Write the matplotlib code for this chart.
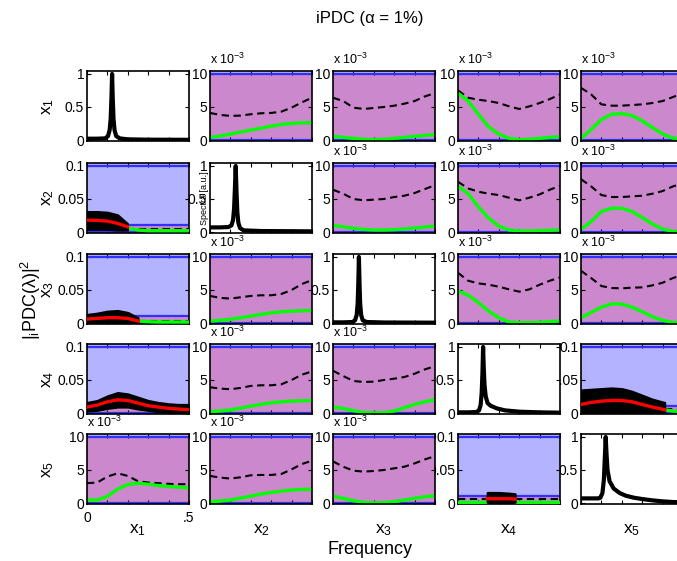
import numpy as np
import matplotlib
matplotlib.use('Agg')
import matplotlib.pyplot as plt

plt.rcParams['font.family'] = ['Liberation Sans', 'DejaVu Sans']
plt.rcParams['mathtext.fontset'] = 'custom'
plt.rcParams['mathtext.rm'] = 'Liberation Sans'
plt.rcParams['mathtext.it'] = 'Liberation Sans:italic'
plt.rcParams['mathtext.default'] = 'regular'

# ---------------- data ----------------
freq = [0.0, 0.05, 0.10, 0.15, 0.20, 0.25, 0.30, 0.35, 0.40, 0.45, 0.50]
var_names = ['x$_1$', 'x$_2$', 'x$_3$', 'x$_4$', 'x$_5$']

# non-significant connections (values in units of 1e-3)
thr_1_2 = [4.1, 3.8, 3.65, 3.7, 3.9, 4.05, 4.1, 4.3, 4.9, 5.7, 6.4]
pdc_1_2 = [0.4, 0.6, 0.9, 1.2, 1.5, 1.8, 2.1, 2.35, 2.5, 2.6, 2.6]
thr_1_3 = [6.4, 5.9, 4.9, 4.7, 4.85, 5.0, 5.2, 5.5, 5.9, 6.6, 7.1]
pdc_1_3 = [0.55, 0.4, 0.25, 0.12, 0.05, 0.1, 0.25, 0.4, 0.55, 0.7, 0.8]
thr_1_4 = [7.5, 6.4, 6.1, 5.9, 5.6, 5.1, 4.7, 5.1, 5.6, 6.2, 6.9]
pdc_1_4 = [7.1, 5.9, 3.9, 2.0, 0.9, 0.25, 0.05, 0.1, 0.25, 0.4, 0.5]
thr_1_5 = [7.9, 6.9, 5.4, 5.2, 5.2, 5.3, 5.4, 5.6, 5.9, 6.5, 7.1]
pdc_1_5 = [0.25, 1.6, 3.1, 3.9, 4.0, 3.7, 2.9, 1.9, 0.9, 0.3, 0.05]

thr_2_3 = [6.4, 5.8, 5.0, 4.8, 4.9, 5.0, 5.3, 5.5, 5.9, 6.5, 7.1]
pdc_2_3 = [1.0, 0.8, 0.55, 0.4, 0.3, 0.3, 0.35, 0.45, 0.6, 0.75, 0.9]
thr_2_4 = [7.6, 6.6, 6.1, 5.8, 5.6, 5.2, 4.8, 5.2, 5.7, 6.4, 7.0]
pdc_2_4 = [6.9, 5.8, 3.8, 2.1, 0.9, 0.3, 0.15, 0.15, 0.2, 0.25, 0.3]
thr_2_5 = [8.0, 6.9, 5.6, 5.3, 5.3, 5.4, 5.5, 5.8, 6.2, 6.9, 7.4]
pdc_2_5 = [0.4, 1.6, 3.1, 3.6, 3.6, 3.1, 2.2, 1.2, 0.45, 0.1, 0.0]

thr_3_2 = [4.1, 3.8, 3.7, 3.9, 4.1, 4.2, 4.2, 4.4, 5.0, 5.9, 6.5]
pdc_3_2 = [0.3, 0.4, 0.55, 0.8, 1.05, 1.3, 1.55, 1.7, 1.8, 1.85, 1.9]
thr_3_4 = [7.6, 6.4, 6.0, 5.8, 5.5, 5.1, 4.75, 5.1, 5.8, 6.4, 6.9]
pdc_3_4 = [4.85, 4.2, 3.1, 1.8, 0.8, 0.15, 0.05, 0.05, 0.1, 0.2, 0.3]
thr_3_5 = [7.9, 6.8, 5.6, 5.3, 5.25, 5.35, 5.4, 5.7, 6.1, 6.8, 7.3]
pdc_3_5 = [0.8, 1.6, 2.4, 2.9, 2.85, 2.4, 1.7, 0.95, 0.4, 0.1, 0.0]

thr_4_2 = [3.9, 3.7, 3.6, 3.8, 4.1, 4.2, 4.2, 4.35, 5.0, 5.8, 6.3]
pdc_4_2 = [0.2, 0.3, 0.45, 0.75, 1.05, 1.3, 1.55, 1.7, 1.8, 1.85, 1.9]
thr_4_3 = [6.4, 5.6, 4.85, 4.7, 4.75, 5.0, 5.2, 5.45, 5.95, 6.6, 7.1]
pdc_4_3 = [0.9, 0.7, 0.35, 0.1, 0.02, 0.05, 0.3, 0.8, 1.3, 1.7, 2.0]

thr_5_1 = [3.0, 3.1, 4.0, 4.5, 4.1, 3.3, 3.1, 3.0, 2.9, 2.85, 2.85]
pdc_5_1 = [0.45, 0.45, 1.0, 2.1, 2.8, 3.0, 2.85, 2.65, 2.5, 2.4, 2.3]
thr_5_2 = [4.1, 3.85, 3.7, 3.9, 4.2, 4.25, 4.25, 4.4, 5.1, 5.9, 6.4]
pdc_5_2 = [0.2, 0.3, 0.45, 0.75, 1.05, 1.35, 1.6, 1.8, 1.95, 2.05, 2.1]
thr_5_3 = [6.3, 5.5, 4.9, 4.75, 4.85, 5.0, 5.25, 5.5, 6.0, 6.6, 7.1]
pdc_5_3 = [1.05, 0.7, 0.35, 0.1, 0.02, 0.05, 0.2, 0.45, 0.7, 0.95, 1.1]

# significant connections (absolute values)
f_sig_2_1 = [0.0, 0.05, 0.10, 0.15, 0.198]
pdc_sig_2_1 = [0.018, 0.0175, 0.0165, 0.013, 0.008]
ci_hi_2_1 = [0.031, 0.031, 0.030, 0.026, 0.013]
ci_lo_2_1 = [0.004, 0.004, 0.004, 0.003, 0.003]
f_ns_2_1 = [0.198, 0.25, 0.30, 0.35, 0.40, 0.45, 0.50]
pdc_ns_2_1 = [0.006, 0.003, 0.002, 0.002, 0.002, 0.002, 0.002]
thr_2_1 = [0.0045, 0.0045, 0.0045, 0.0045, 0.0045, 0.0045, 0.0045]

f_sig_3_1 = [0.0, 0.05, 0.10, 0.15, 0.20, 0.25]
pdc_sig_3_1 = [0.006, 0.007, 0.008, 0.008, 0.007, 0.003]
ci_hi_3_1 = [0.013, 0.015, 0.018, 0.019, 0.016, 0.008]
ci_lo_3_1 = [0.001, 0.001, 0.001, 0.001, 0.001, 0.001]
f_ns_3_1 = [0.25, 0.30, 0.35, 0.40, 0.45, 0.50]
pdc_ns_3_1 = [0.003, 0.002, 0.0015, 0.0015, 0.0015, 0.0015]
thr_3_1 = [0.0035, 0.0035, 0.0035, 0.0035, 0.0035, 0.0035]

f_sig_4_1 = [0.0, 0.05, 0.10, 0.15, 0.20, 0.25, 0.30, 0.35, 0.40, 0.45, 0.50]
pdc_sig_4_1 = [0.009, 0.012, 0.017, 0.020, 0.019, 0.015, 0.011, 0.009, 0.007, 0.006, 0.005]
ci_hi_4_1 = [0.016, 0.019, 0.026, 0.031, 0.029, 0.024, 0.019, 0.016, 0.014, 0.013, 0.013]
ci_lo_4_1 = [0.003, 0.004, 0.007, 0.009, 0.009, 0.006, 0.004, 0.002, 0.001, 0.001, 0.0]

f_sig_4_5 = [0.0, 0.05, 0.10, 0.15, 0.20, 0.25, 0.30, 0.35, 0.41]
pdc_sig_4_5 = [0.013, 0.016, 0.018, 0.019, 0.019, 0.017, 0.013, 0.009, 0.005]
ci_hi_4_5 = [0.035, 0.036, 0.037, 0.038, 0.037, 0.033, 0.027, 0.021, 0.016]
ci_lo_4_5 = [0.001, 0.001, 0.001, 0.001, 0.001, 0.001, 0.001, 0.001, 0.001]
f_ns_4_5 = [0.41, 0.45, 0.50]
pdc_ns_4_5 = [0.005, 0.003, 0.002]
thr_4_5 = [0.006, 0.006, 0.006]

f_sig_5_4 = [0.143, 0.20, 0.25, 0.28]
pdc_sig_5_4 = [0.0065, 0.0065, 0.0065, 0.006]
ci_hi_5_4 = [0.016, 0.016, 0.015, 0.014]
ci_lo_5_4 = [0.001, 0.001, 0.001, 0.001]
f_ns_5_4a = [0.0, 0.05, 0.10, 0.143]
pdc_ns_5_4a = [0.002, 0.002, 0.002, 0.002]
thr_5_4a = [0.006, 0.006, 0.006, 0.006]
f_ns_5_4b = [0.28, 0.35, 0.40, 0.45, 0.50]
pdc_ns_5_4b = [0.002, 0.002, 0.002, 0.002, 0.002]
thr_5_4b = [0.006, 0.006, 0.006, 0.006, 0.006]

# spectra (diagonal)
spec_f_1 = [0, 0.05, 0.09, 0.103, 0.111, 0.116, 0.12, 0.123, 0.126, 0.13, 0.135, 0.143, 0.16, 0.2, 0.3, 0.5]
spec_1 = [0.02, 0.02, 0.025, 0.06, 0.15, 0.32, 0.65, 1.0, 0.65, 0.32, 0.15, 0.06, 0.025, 0.01, 0.005, 0.003]
spec_f_2 = [0, 0.05, 0.09, 0.105, 0.113, 0.118, 0.122, 0.126, 0.13, 0.134, 0.139, 0.147, 0.165, 0.25, 0.5]
spec_2 = [0.07, 0.07, 0.075, 0.1, 0.18, 0.35, 0.65, 1.0, 0.6, 0.3, 0.14, 0.06, 0.025, 0.015, 0.01]
spec_f_3 = [0, 0.05, 0.095, 0.108, 0.116, 0.121, 0.124, 0.127, 0.13, 0.133, 0.138, 0.146, 0.165, 0.25, 0.5]
spec_3 = [0.01, 0.01, 0.015, 0.04, 0.12, 0.3, 0.6, 1.0, 0.6, 0.3, 0.12, 0.04, 0.015, 0.008, 0.005]
spec_f_4 = [0, 0.05, 0.09, 0.103, 0.111, 0.116, 0.12, 0.123, 0.126, 0.13, 0.136, 0.145, 0.16, 0.19, 0.23, 0.3, 0.4, 0.5]
spec_4 = [0.01, 0.01, 0.015, 0.04, 0.12, 0.3, 0.62, 1.0, 0.7, 0.42, 0.25, 0.15, 0.11, 0.07, 0.04, 0.02, 0.01, 0.005]
spec_f_5 = [0, 0.05, 0.085, 0.095, 0.105, 0.112, 0.117, 0.121, 0.125, 0.13, 0.14, 0.16, 0.19, 0.22, 0.26, 0.3, 0.35, 0.4, 0.45, 0.5]
spec_5 = [0.07, 0.07, 0.07, 0.08, 0.15, 0.35, 0.7, 1.0, 0.75, 0.5, 0.33, 0.22, 0.15, 0.11, 0.08, 0.06, 0.04, 0.025, 0.015, 0.01]

# ---------------- assembly ----------------
nonsig = {
    (1, 2): (thr_1_2, pdc_1_2), (1, 3): (thr_1_3, pdc_1_3), (1, 4): (thr_1_4, pdc_1_4), (1, 5): (thr_1_5, pdc_1_5),
    (2, 3): (thr_2_3, pdc_2_3), (2, 4): (thr_2_4, pdc_2_4), (2, 5): (thr_2_5, pdc_2_5),
    (3, 2): (thr_3_2, pdc_3_2), (3, 4): (thr_3_4, pdc_3_4), (3, 5): (thr_3_5, pdc_3_5),
    (4, 2): (thr_4_2, pdc_4_2), (4, 3): (thr_4_3, pdc_4_3),
    (5, 1): (thr_5_1, pdc_5_1), (5, 2): (thr_5_2, pdc_5_2), (5, 3): (thr_5_3, pdc_5_3),
}
sig = {
    (2, 1): ([(f_sig_2_1, pdc_sig_2_1, ci_lo_2_1, ci_hi_2_1)], [(f_ns_2_1, pdc_ns_2_1, thr_2_1)]),
    (3, 1): ([(f_sig_3_1, pdc_sig_3_1, ci_lo_3_1, ci_hi_3_1)], [(f_ns_3_1, pdc_ns_3_1, thr_3_1)]),
    (4, 1): ([(f_sig_4_1, pdc_sig_4_1, ci_lo_4_1, ci_hi_4_1)], []),
    (4, 5): ([(f_sig_4_5, pdc_sig_4_5, ci_lo_4_5, ci_hi_4_5)], [(f_ns_4_5, pdc_ns_4_5, thr_4_5)]),
    (5, 4): ([(f_sig_5_4, pdc_sig_5_4, ci_lo_5_4, ci_hi_5_4)],
             [(f_ns_5_4a, pdc_ns_5_4a, thr_5_4a), (f_ns_5_4b, pdc_ns_5_4b, thr_5_4b)]),
}
spectra = {1: (spec_f_1, spec_1), 2: (spec_f_2, spec_2), 3: (spec_f_3, spec_3),
           4: (spec_f_4, spec_4), 5: (spec_f_5, spec_5)}

LIGHTBLUE = '#b3b3ff'
PURPLE = '#cc88cc'
BLUE = '#3030ff'
GREEN = '#00ff00'
RED = '#ff0000'

W, H = 677, 561
fig = plt.figure(figsize=(W / 100, H / 100), dpi=100)
col_left = [87, 210, 333, 458, 581]
row_top = [71, 163, 254, 344, 434]
pw, ph = 102, 70


def style(ax, i, j):
    ax.set_xlim(0, 0.5)
    ax.set_xticks([0, 0.1, 0.2, 0.3, 0.4, 0.5])
    if i == 5 and j == 1:
        ax.set_xticklabels(['0', '', '', '', '', '.5'])
    else:
        ax.set_xticklabels([])
    ax.tick_params(direction='in', length=3, width=0.8, top=True, right=True,
                   labelsize=10, pad=2)
    ax.tick_params(axis='x', pad=5)
    for s in ax.spines.values():
        s.set_linewidth(1.2)


for i in range(1, 6):
    for j in range(1, 6):
        l = col_left[j - 1]
        t = row_top[i - 1]
        ax = fig.add_axes([l / W, 1 - (t + ph) / H, pw / W, ph / H])
        ax.set_zorder(100 - 10 * i - j)
        style(ax, i, j)
        if i == j:
            f, v = spectra[i]
            ax.plot(f, v, color='k', lw=3.0, solid_joinstyle='round')
            ax.set_ylim(-0.015, 1.045)
            ax.set_yticks([0, 0.5, 1])
            ax.set_yticklabels(['0', '0.5', '1'])
            if i == 2:
                ax.text(-0.05, 0.5, 'Spectra [a.u.]', rotation=90, transform=ax.transAxes,
                        ha='center', va='center', fontsize=6.5)
            continue
        ax.set_facecolor(LIGHTBLUE)
        if (i, j) in nonsig:
            thr, pdc = nonsig[(i, j)]
            ax.axhspan(0, 10, color=PURPLE, lw=0)
            ax.axhline(10, color=BLUE, lw=1.6)
            ax.axhline(0, color=BLUE, lw=1.6)
            ax.plot(freq, thr, color='k', lw=1.5, dashes=(3.5, 2.2))
            ax.plot(freq, pdc, color=GREEN, lw=2.4)
            ax.set_ylim(-0.15, 10.45)
            ax.set_yticks([0, 5, 10])
            ax.set_yticklabels(['0', '5', '10'])
            ax.text(0, 1.1, r'x 10$^{-3}$', transform=ax.transAxes, ha='left',
                    va='baseline', fontsize=9)
        else:
            sig_parts, ns_parts = sig[(i, j)]
            ax.axhspan(0, 0.01, color=PURPLE, lw=0)
            ax.axhline(0.1, color=BLUE, lw=1.6)
            ax.axhline(0.01, color=BLUE, lw=1.6)
            ax.axhline(0, color=BLUE, lw=1.6)
            for f, p, th in ns_parts:
                ax.plot(f, th, color='k', lw=1.5, dashes=(3.5, 2.2), zorder=3)
                ax.plot(f, p, color=GREEN, lw=2.4, zorder=3)
            for f, p, lo, hi in sig_parts:
                ax.fill_between(f, lo, hi, color='k', lw=1.5, edgecolor='k', zorder=4)
                ax.plot(f, p, color=RED, lw=2.4, zorder=5)
            ax.set_ylim(-0.0015, 0.1045)
            ax.set_yticks([0, 0.05, 0.1])
            ax.set_yticklabels(['0', '0.05', '0.1'])

# row and column labels
for k in range(5):
    yc = row_top[k] + ph / 2
    fig.text(48 / W, 1 - yc / H, var_names[k], rotation=90, ha='center', va='center', fontsize=12.5)
    xc = col_left[k] + pw / 2
    fig.text(xc / W, 1 - 530 / H, var_names[k], ha='center', va='center', fontsize=12.5)

fig.text(370 / W, 1 - 550 / H, 'Frequency', ha='center', va='center', fontsize=13)
fig.text(370 / W, 1 - 18 / H, 'iPDC (α = 1%)', ha='center', va='center', fontsize=12)
fig.text(31 / W, 1 - 300 / H, r'|$_{i}$PDC($\lambda$)|$^2$', rotation=90, ha='center',
         va='center', fontsize=13)

fig.savefig('out.png', dpi=100)
